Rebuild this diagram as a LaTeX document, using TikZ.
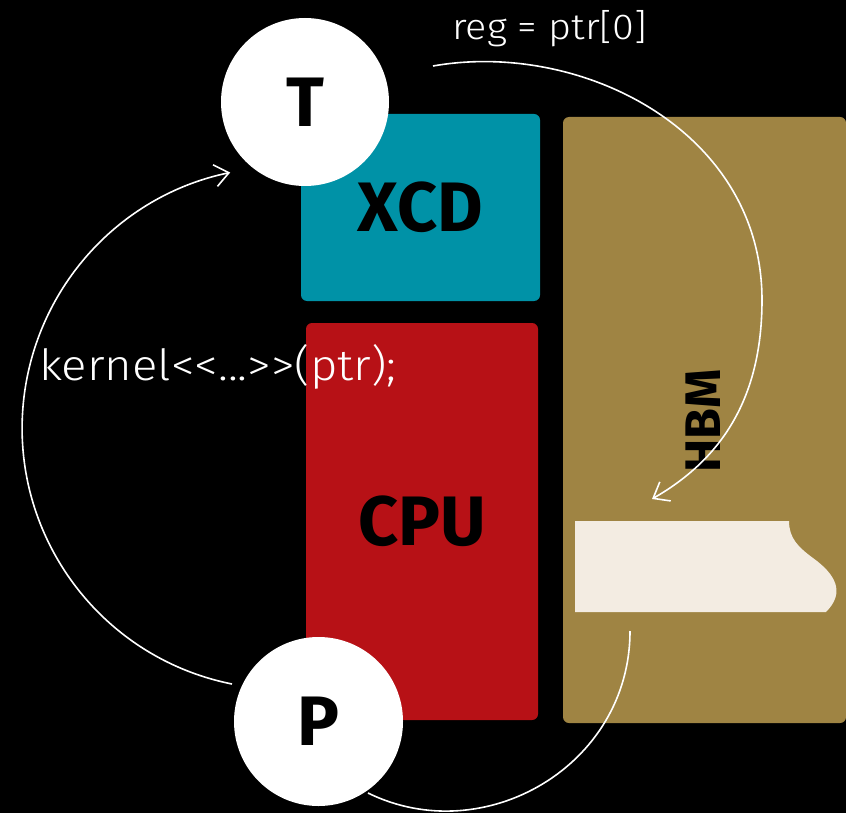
\documentclass[tikz,border=0pt]{standalone}
\usepackage{fontspec}
\setmainfont{Fira Sans}
\newfontfamily\thinfont{Fira Sans Light}[FakeStretch=1.1]
\usetikzlibrary{arrows.meta}
\definecolor{xcdc}{RGB}{0,146,167}
\definecolor{cpuc}{RGB}{183,17,22}
\definecolor{hbmc}{RGB}{159,132,67}
\definecolor{memc}{RGB}{243,236,226}
\tikzset{
  unitbox/.style={rectangle, rounded corners=6pt, inner sep=0pt, text=black,
    font=\bfseries\fontsize{70}{70}\selectfont},
  bigcircle/.style={circle, fill=white, inner sep=0pt, text=black,
    font=\bfseries\fontsize{70}{70}\selectfont},
  lighttext/.style={text=white, inner sep=0pt, anchor=base west},
  conn/.style={draw=white, line width=1.6pt},
  tip/.style={-{Straight Barb[length=14pt,width=22pt]}}
}
\begin{document}
\begin{tikzpicture}[x=1pt,y=-1pt]
\fill[black] (0,0) rectangle (846,813);
\useasboundingbox (0,0) rectangle (846,813);
% boxes
\node[unitbox, fill=xcdc, minimum width=239pt, minimum height=187pt] (XCD) at (420.5,207.5) {XCD};
\node[unitbox, fill=cpuc, minimum width=232pt, minimum height=397pt] (CPU) at (422,521.5) {CPU};
\node[unitbox, fill=hbmc, minimum width=283pt, minimum height=606pt] (HBMbox) at (704.5,420) {};
\node[text=black, inner sep=0pt, rotate=90, font=\bfseries\fontsize{50}{50}\selectfont] (HBM) at (703,421) {HBM};
% memory block
\fill[memc] (575,521) -- (789,521) .. controls (789,538) and (798,547) .. (813,558)
  .. controls (835,574) and (846,592) .. (826,612) -- (575,612) -- cycle;
% circles
\node[bigcircle, minimum size=168pt] (T) at (305,102) {T};
\node[bigcircle, minimum size=169pt] (P) at (318.5,721.5) {P};
% texts
\node[lighttext, font=\thinfont\fontsize{36}{36}\selectfont] (regtxt) at (452,40) {reg = ptr[0]};
\node[lighttext, font=\thinfont\fontsize{43}{43}\selectfont] (kerntxt) at (39,380) {kernel<\kern0pt<...>\kern0pt>(ptr);};
% connector coordinates
\coordinate (a1) at (232,684);
\coordinate (b1) at (433,66);
\coordinate (b2) at (652,499);
\coordinate (c1) at (368,793);
\coordinate (c2) at (630,631);
% connectors
\draw[conn, tip] (a1) arc[start angle=101.3, end angle=258.3, radius=261];
\draw[conn, tip] (b1) .. controls (580,40) and (762,130) .. (762,300)
  .. controls (762,400) and (720,460) .. (b2);
\draw[conn] (c1) .. controls (484,850) and (630,766) .. (c2);
\end{tikzpicture}
\end{document}
